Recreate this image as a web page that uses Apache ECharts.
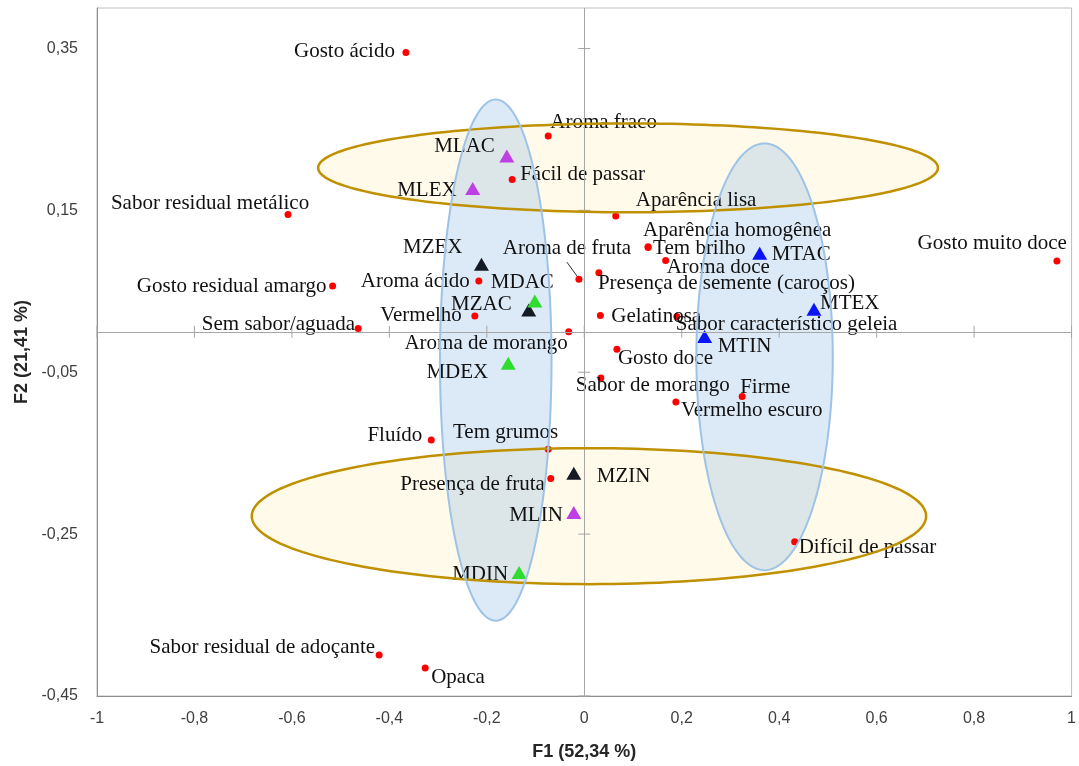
<!DOCTYPE html>
<html><head><meta charset="utf-8">
<script src="https://cdn.jsdelivr.net/npm/echarts@6.0.0/dist/echarts.min.js"></script>
<style>html,body{margin:0;padding:0;background:#fff}#c{width:1079px;height:766px}</style>
</head><body><div id="c"></div>
<script>
// ---- data ----
const attrNames = ['Gosto ácido','Aroma fraco','Fácil de passar','Sabor residual metálico','Aparência lisa',
  'Aparência homogênea','Tem brilho','Aroma doce','Presença de semente (caroços)','Aroma de fruta',
  'Gosto muito doce','Gosto residual amargo','Sem sabor/aguada','Aroma ácido','Vermelho','Gelatinosa',
  'Sabor característico geleia','Aroma de morango','Gosto doce','Sabor de morango','Firme','Vermelho escuro',
  'Fluído','Tem grumos','Presença de fruta','Difícil de passar','Sabor residual de adoçante','Opaca'];
const attrX = [-0.366,-0.074,-0.148,-0.608,0.0646, 0.131,0.131,0.167,0.030,-0.011,
  0.970,-0.5165,-0.464,-0.2164,-0.2246,0.033, 0.190,-0.032,0.067,0.034,0.324,0.188,
  -0.314,-0.074,-0.0687,0.4318,-0.421,-0.3265];
const attrY = [0.345,0.242,0.188,0.145,0.143, 0.105,0.104,0.088,0.073,0.065,
  0.0874,0.0565,0.004,0.0627,0.0195,0.020, 0.019,0.000,-0.0216,-0.057,-0.080,-0.0867,
  -0.1336,-0.145,-0.1812,-0.2595,-0.3994,-0.4154];

const sampleNames = ['MLAC','MLEX','MZEX','MDAC','MZAC','MDEX','MZIN','MLIN','MDIN','MTAC','MTEX','MTIN'];
const sampleX = [-0.159,-0.229,-0.211,-0.1015,-0.114,-0.156,-0.0215,-0.0215,-0.1337,0.360,0.4714,0.247];
const sampleY = [0.217,0.177,0.0833,0.038,0.027,-0.039,-0.1747,-0.2232,-0.2973,0.097,0.0278,-0.006];
const sampleGroup = ['ML','ML','MZ','MD','MZ','MD','MZ','ML','MD','MT','MT','MT'];
const groups = ['MZ','MD','ML','MT'];

const xTicks = [-1,-0.8,-0.6,-0.4,-0.2,0,0.2,0.4,0.6,0.8,1];
const yTicks = [-0.45,-0.25,-0.05,0.15,0.35];

// annotation ellipses (data units): centre x, centre y, half-width, half-height
const ellCX = [0.0898, 0.0096, -0.1817, 0.370];
const ellCY = [0.2025, -0.2278, -0.0350, -0.0309];
const ellRX = [0.636, 0.692, 0.1145, 0.140];
const ellRY = [0.0549, 0.084, 0.322, 0.2636];
const ellKind = ['yellow','yellow','blue','blue'];

// ---- styling / label placement ----
const attrLabel = {
 'Gosto ácido':['right',-11,-1],'Aroma fraco':['left',2,-13],'Fácil de passar':['left',8,-5],
 'Sabor residual metálico':['center',-78,-11],'Aparência lisa':['left',20,-16],
 'Aparência homogênea':['left',-5,-16],'Tem brilho':['left',5,1],'Aroma doce':['left',1,7],
 'Presença de semente (caroços)':['left',-1,11],'Aroma de fruta':['center',-12,-31],
 'Gosto muito doce':['right',10,-18],'Gosto residual amargo':['right',-6,0],'Sem sabor/aguada':['right',-3,-4],
 'Aroma ácido':['right',-9,0],'Vermelho':['right',-13,0],'Gelatinosa':['left',11,1],
 'Sabor característico geleia':['left',-1,8],'Aroma de morango':['right',-1,12],'Gosto doce':['left',1,9],
 'Sabor de morango':['left',-25,8],'Firme':['left',-2,-9],'Vermelho escuro':['left',5,9],
 'Fluído':['right',-9,-4],'Tem grumos':['right',10,-17],'Presença de fruta':['right',-6,6],
 'Difícil de passar':['left',4,6],'Sabor residual de adoçante':['right',-4,-8],'Opaca':['left',6,9]
};
const sampleLabel = {
 'MLAC':['right',-12,-10],'MLEX':['right',-16,2],'MZEX':['right',-19,-17],'MDAC':['left',-44,-19],
 'MZAC':['right',-17,-5],'MDEX':['right',-20,9],'MZIN':['left',23,3],'MLIN':['right',-11,3],
 'MDIN':['right',-11,2],'MTAC':['left',12,1],'MTEX':['left',6,-6],'MTIN':['left',13,10]
};
const groupColor = {MZ:'#141b24', MD:'#2fdc2f', ML:'#bf3ee6', MT:'#0a14f5'};
const ellStyle = {
  yellow:{fill:'rgba(255,228,150,0.2)', stroke:'#BF9000', lineWidth:2.5},
  blue:{fill:'rgba(157,195,230,0.36)', stroke:'#9DC3E6', lineWidth:2}
};
const labelFont = {fontFamily:'Liberation Serif', fontSize:21, color:'#111'};

function mkLabel(p){
  return Object.assign({show:true, formatter:'{b}', position:'inside', align:p[0], verticalAlign:'middle', offset:[p[1],p[2]]}, labelFont);
}

function ellipsePoints(api){
  const cx=api.value(0), cy=api.value(1), rx=api.value(2), ry=api.value(3);
  const pts=[]; const N=180;
  for(let k=0;k<N;k++){const t=k/N*2*Math.PI; pts.push(api.coord([cx+rx*Math.cos(t), cy+ry*Math.sin(t)]));}
  return pts;
}
const ellData = ellCX.map((c,i)=>[c,ellCY[i],ellRX[i],ellRY[i]]);

const series = [];
// ellipse fills (under marks)
series.push({
  type:'custom', z:0, silent:true, encode:{x:0,y:1}, data:ellData,
  renderItem:(params,api)=>{
    const s=ellStyle[ellKind[params.dataIndex]];
    return {type:'polygon', shape:{points:ellipsePoints(api)}, style:{fill:s.fill, stroke:null}};
  }
});
// zero axes lines
series.push({
  type:'scatter', data:[], silent:true, z:1,
  markLine:{silent:true, symbol:['none','none'], animation:false, label:{show:false},
    lineStyle:{color:'#A6A6A6', type:'solid', width:1},
    data:[{xAxis:0},{yAxis:0}]}
});
// cross ticks on zero axes
series.push({
  type:'custom', z:1, silent:true, data:xTicks.map(v=>[v,0]),
  encode:{x:0,y:1},
  renderItem:(params,api)=>{const p=api.coord([api.value(0),0]);
    return {type:'line', shape:{x1:p[0],y1:p[1]-6,x2:p[0],y2:p[1]+6}, style:{stroke:'#A6A6A6',lineWidth:1}};}
});
series.push({
  type:'custom', z:1, silent:true, data:yTicks.map(v=>[0,v]),
  encode:{x:0,y:1},
  renderItem:(params,api)=>{const p=api.coord([0,api.value(1)]);
    return {type:'line', shape:{x1:p[0]-6,y1:p[1],x2:p[0]+6,y2:p[1]}, style:{stroke:'#A6A6A6',lineWidth:1}};}
});
// attributes
series.push({
  type:'scatter', z:3, symbol:'circle', symbolSize:7, itemStyle:{color:'#FF0000', opacity:1},
  data:attrNames.map((n,i)=>({name:n, value:[attrX[i],attrY[i]], label:mkLabel(attrLabel[n])}))
});
// leader line for "Aroma de fruta"
const afIdx = attrNames.indexOf('Aroma de fruta');
series.push({
  type:'custom', z:3, silent:true, data:[[attrX[afIdx],attrY[afIdx]]], encode:{x:0,y:1},
  renderItem:(params,api)=>{const p=api.coord([api.value(0),api.value(1)]);
    return {type:'line', shape:{x1:p[0]-12,y1:p[1]-17,x2:p[0]-1.5,y2:p[1]-2.5}, style:{stroke:'#333',lineWidth:1}};}
});
// samples
groups.forEach(g=>{
  const d=[];
  sampleNames.forEach((n,i)=>{ if(sampleGroup[i]===g) d.push({name:n, value:[sampleX[i],sampleY[i]], label:mkLabel(sampleLabel[n])}); });
  series.push({type:'scatter', z:3, symbol:'triangle', symbolSize:[15,13], itemStyle:{color:groupColor[g], opacity:1}, data:d});
});
// ellipse outlines (over marks)
series.push({
  type:'custom', z:6, silent:true, encode:{x:0,y:1}, data:ellData,
  renderItem:(params,api)=>{
    const s=ellStyle[ellKind[params.dataIndex]];
    return {type:'polygon', shape:{points:ellipsePoints(api)}, style:{fill:null, stroke:s.stroke, lineWidth:s.lineWidth}};
  }
});

const axisLabelStyle = {fontFamily:'Liberation Sans', fontSize:16, color:'#404040'};
const chart = echarts.init(document.getElementById('c'), null, {renderer:'canvas'});
chart.setOption({
  animation:false,
  backgroundColor:'#fff',
  grid:{left:97, top:8, width:975, height:689, show:true, borderColor:'#BFBFBF', borderWidth:1, containLabel:false},
  xAxis:{type:'value', min:-1, max:1, interval:0.2,
    splitLine:{show:false}, axisTick:{show:false},
    axisLine:{show:true, onZero:false, lineStyle:{color:'#8C8C8C'}},
    axisLabel:Object.assign({margin:15, formatter:v=>String(Math.round(v*10)/10).replace('.',',')}, axisLabelStyle),
    name:'F1 (52,34 %)', nameLocation:'middle', nameGap:47,
    nameTextStyle:{fontFamily:'Liberation Sans', fontSize:18, fontWeight:'bold', color:'#262626'}},
  yAxis:{type:'value', min:-0.45, max:0.4, interval:0.2,
    splitLine:{show:false}, axisTick:{show:false},
    axisLine:{show:true, onZero:false, lineStyle:{color:'#8C8C8C'}},
    axisLabel:Object.assign({margin:19, showMaxLabel:false, formatter:v=>String(Math.round(v*100)/100).replace('.',',')}, axisLabelStyle),
    name:'F2 (21,41 %)', nameLocation:'middle', nameGap:58, nameRotate:90,
    nameTextStyle:{fontFamily:'Liberation Sans', fontSize:18, fontWeight:'bold', color:'#262626'}},
  series:series
});
</script></body></html>
